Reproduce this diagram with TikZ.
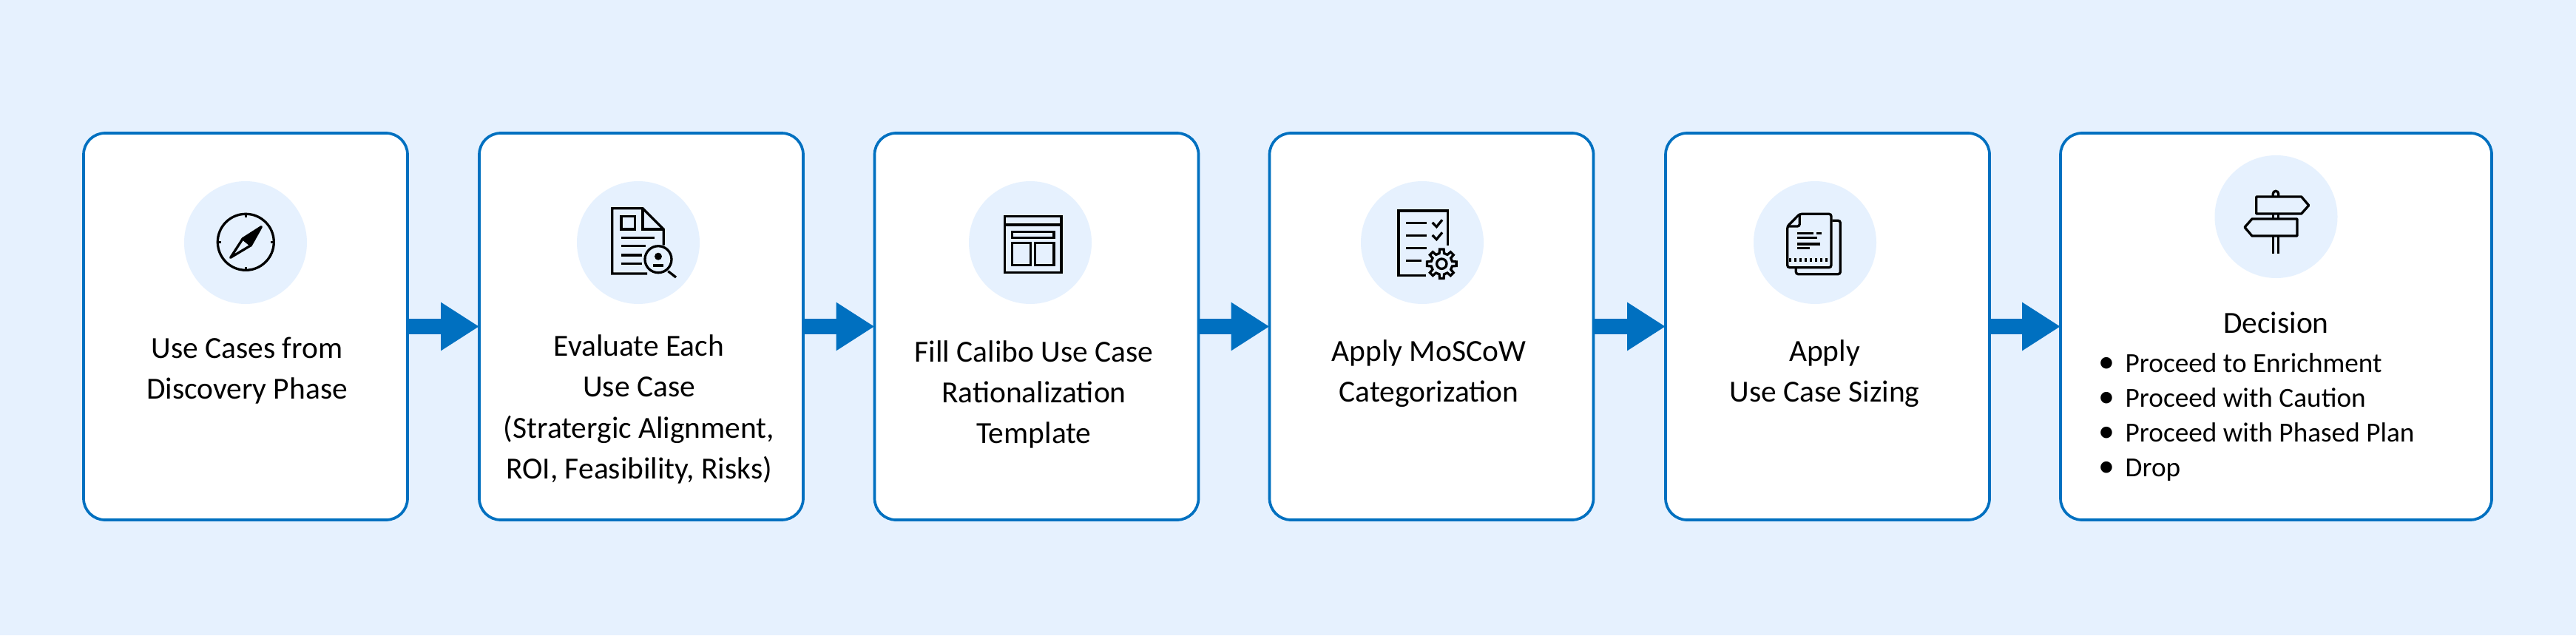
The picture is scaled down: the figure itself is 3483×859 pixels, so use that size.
\documentclass[tikz,border=0pt]{standalone}
\usepackage{fontspec}
\setmainfont{Carlito}
\usetikzlibrary{arrows.meta}
\definecolor{bgblue}{RGB}{230,241,254}
\definecolor{edgeblue}{RGB}{0,112,192}
\tikzset{
    card/.style={draw=edgeblue, fill=white, line width=.37mm, rounded corners=2.9mm, minimum height=52.3mm, inner sep=0pt, outer sep=0pt},
    disc/.style={circle, fill=bgblue, minimum size=16.6mm, inner sep=0pt},
    txt/.style={align=center, inner sep=0pt, font=\fontsize{11.8}{15.7}\selectfont},
    flow/.style={draw=edgeblue, line width=2.1mm, -{Triangle[length=5.2mm,width=6.2mm]}},
    icon/.style={draw=black, line width=.33mm, line join=miter},
}
\begin{document}
\begin{tikzpicture}[x=.1mm, y=-.1mm]
    \useasboundingbox (0,0) rectangle (3483,859);
    \fill[bgblue] (0,0) rectangle (3483,859);

%%   kw   (name)   (x, y)   {text}
    \node[card, minimum width=43.8mm] (cd1) at (332, 441.5)    {};
    \node[card, minimum width=43.8mm] (cd2) at (867, 441.5)    {};
    \node[card, minimum width=43.8mm] (cd3) at (1401.5, 441.5) {};
    \node[card, minimum width=43.8mm] (cd4) at (1935.5, 441.5) {};
    \node[card, minimum width=43.8mm] (cd5) at (2471, 441.5)   {};
    \node[card, minimum width=58.3mm] (cd6) at (3077.5, 441.5) {};

    \node[disc] (ci1) at (332, 328)  {};
    \node[disc] (ci2) at (863, 328)  {};
    \node[disc] (ci3) at (1393, 328) {};
    \node[disc] (ci4) at (1923, 328) {};
    \node[disc] (ci5) at (2454, 328) {};
    \node[disc] (ci6) at (3077.5, 293) {};

    \node[txt] (tx1) at (334, 501.5)    {Use Cases from\\Discovery Phase};
    \node[txt] (tx2) at (864, 553.5)    {Evaluate Each\\Use Case\\(Stratergic Alignment,\\ROI, Feasibility, Risks)};
    \node[txt] (tx3) at (1398, 533.5)   {Fill Calibo Use Case\\Rationalization\\Template};
    \node[txt] (tx4) at (1932, 505.5)   {Apply MoSCoW\\Categorization};
    \node[txt] (tx5) at (2467, 505.5)   {Apply\\Use Case Sizing};
    \node[txt] (tx6) at (3077.5, 436) {Decision};
    \node[txt, align=left, anchor=west, font=\fontsize{10.6}{13.37}\selectfont] (tx7) at (2837, 564)
        {\makebox[3.6mm][l]{\fontsize{12.5}{13.37}\selectfont •}Proceed to Enrichment\\\makebox[3.6mm][l]{\fontsize{12.5}{13.37}\selectfont •}Proceed with Caution\\\makebox[3.6mm][l]{\fontsize{12.5}{13.37}\selectfont •}Proceed with Phased Plan\\\makebox[3.6mm][l]{\fontsize{12.5}{13.37}\selectfont •}Drop};

    \draw[flow] (cd1) -- (cd2);
    \draw[flow] (cd2) -- (cd3);
    \draw[flow] (cd3) -- (cd4);
    \draw[flow] (cd4) -- (cd5);
    \draw[flow] (cd5) -- (cd6);

%%   compass
    \draw[icon] (332.3, 327.3) circle (38);
    \draw[icon] (332.3, 289.3) -- (332.3, 294);
    \draw[icon] (332.3, 365.3) -- (332.3, 360.6);
    \draw[icon] (294.3, 327.3) -- (299, 327.3);
    \draw[icon] (370.3, 327.3) -- (365.6, 327.3);
    \draw[icon, fill=black, line join=round] (353.3, 306.7) -- (328.3, 322.7) -- (339.3, 331.7) -- cycle;
    \draw[icon, line join=round] (311.7, 348.3) -- (328.3, 322.7) -- (339.3, 331.7) -- cycle;

%%   report with magnifier
    \draw[icon] (875, 370) -- (827.7, 370) -- (827.7, 281.7) -- (869, 281.7) -- (897.3, 310) -- (897.3, 331.7);
    \draw[icon] (869, 281.7) -- (869, 310) -- (897.3, 310);
    \draw[icon] (840, 292.7) rectangle (858.3, 310);
    \draw[icon] (840, 321.7) -- (885, 321.7);
    \draw[icon] (840, 332.7) -- (873, 332.7);
    \draw[icon] (840, 345) -- (868, 345);
    \draw[icon] (840, 356.7) -- (868, 356.7);
    \draw[icon] (890, 350.7) circle (18);
    \draw[icon] (903.3, 366.7) -- (914, 375);
    \fill (890, 346.7) circle (5);
    \draw[icon] (883.3, 359) -- (896.7, 359);

%%   template
    \draw[icon] (1358.3, 292.3) rectangle (1435, 368.3);
    \draw[icon] (1358.3, 304) -- (1435, 304);
    \draw[icon] (1368.3, 313.3) rectangle (1425, 321.7);
    \draw[icon] (1368.3, 328.3) rectangle (1393.3, 358.3);
    \draw[icon] (1399.3, 328.3) rectangle (1425, 358.3);

%%   checklist with gear
    \draw[icon] (1928.3, 372.7) -- (1891, 372.7) -- (1891, 285) -- (1957.3, 285) -- (1957.3, 331.7);
    \draw[icon] (1901, 301.7) -- (1929, 301.7);
    \draw[icon] (1901, 318.7) -- (1929, 318.7);
    \draw[icon] (1901, 335.7) -- (1929, 335.7);
    \draw[icon] (1901, 352.7) -- (1921.7, 352.7);
    \draw[icon] (1936.7, 301) -- (1942.3, 306.7) -- (1950, 297.3);
    \draw[icon] (1936.7, 318) -- (1942.3, 323.7) -- (1950, 314.3);
    \begin{scope}[shift={(1949.3, 356.7)}]
        \draw[icon] (-13:14.5) -- (-8:20) -- (8:20) -- (13:14.5)
            -- (32:14.5) -- (37:20) -- (53:20) -- (58:14.5)
            -- (77:14.5) -- (82:20) -- (98:20) -- (103:14.5)
            -- (122:14.5) -- (127:20) -- (143:20) -- (148:14.5)
            -- (167:14.5) -- (172:20) -- (188:20) -- (193:14.5)
            -- (212:14.5) -- (217:20) -- (233:20) -- (238:14.5)
            -- (257:14.5) -- (262:20) -- (278:20) -- (283:14.5)
            -- (302:14.5) -- (307:20) -- (323:20) -- (328:14.5) -- cycle;
        \draw[icon] (0, 0) circle (6.7);
    \end{scope}

%%   stacked sheets
    \draw[icon, rounded corners=.3mm] (2433.3, 289.3) -- (2476, 289.3) -- (2476, 361.7) -- (2416.7, 361.7) -- (2416.7, 306) -- cycle;
    \draw[icon, rounded corners=.3mm] (2416.7, 306) -- (2433.3, 306) -- (2433.3, 289.3);
    \draw[icon, rounded corners=.3mm] (2477.3, 298.3) -- (2488.3, 298.3) -- (2488.3, 370.7) -- (2428.3, 370.7) -- (2428.3, 362.3);
    \draw[icon] (2430, 315.3) -- (2451.7, 315.3);
    \draw[icon] (2456, 315.3) -- (2463.3, 315.3);
    \draw[icon] (2430, 321.3) -- (2457.3, 321.3);
    \draw[icon] (2430, 330) -- (2460.7, 330);
    \draw[icon] (2430, 335.3) -- (2446.7, 335.3);
    \draw[icon, line width=.5mm, dash pattern=on .25mm off .45mm] (2419, 351.7) -- (2474, 351.7);

%%   signpost
    \draw[icon, line join=round] (3050.7, 266) -- (3111.7, 266) -- (3121.7, 277.7) -- (3111.7, 289) -- (3050.7, 289) -- cycle;
    \draw[icon, line join=round] (3106, 296) -- (3045, 296) -- (3035, 307.3) -- (3045, 319) -- (3106, 319) -- cycle;
    \draw[icon] (3073.3, 266) -- (3073.3, 262) arc (180:360:3.7) -- (3080.7, 266);
    \draw[icon] (3073.3, 289) -- (3073.3, 296);
    \draw[icon] (3080.7, 289) -- (3080.7, 296);
    \draw[icon] (3073.3, 319) -- (3073.3, 343.3);
    \draw[icon] (3080.7, 319) -- (3080.7, 343.3);
\end{tikzpicture}
\end{document}
